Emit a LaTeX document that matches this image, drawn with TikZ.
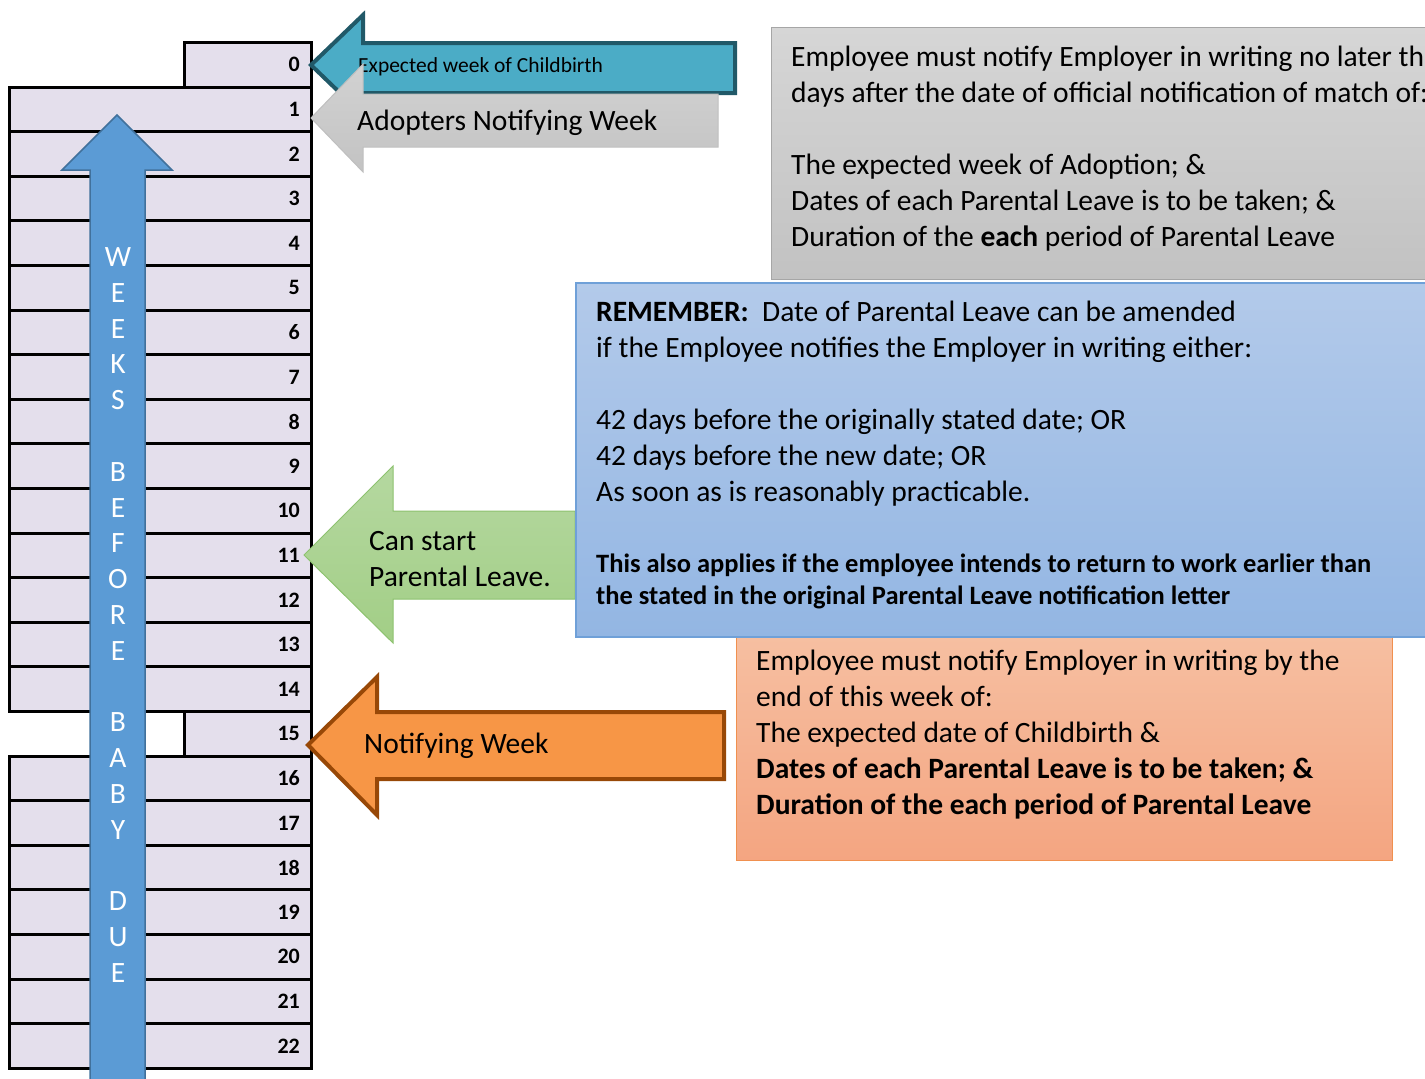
\documentclass[tikz,border=0pt]{standalone}
\usepackage{fontspec}
\setmainfont{Carlito}
\usetikzlibrary{positioning}

\definecolor{rowfill}{HTML}{E4DFEC}
\definecolor{babyfill}{HTML}{5B9BD5}
\definecolor{babyline}{HTML}{41719C}
\definecolor{childfill}{HTML}{4BACC6}
\definecolor{childline}{HTML}{215968}
\definecolor{adopttop}{HTML}{D2D2D2}
\definecolor{adoptbot}{HTML}{C3C3C3}
\definecolor{adoptline}{HTML}{BFBFBF}
\definecolor{starttop}{HTML}{B5D8A0}
\definecolor{startbot}{HTML}{A2CE86}
\definecolor{startline}{HTML}{8DC26F}
\definecolor{notifyfill}{HTML}{F79646}
\definecolor{notifyline}{HTML}{984807}
\definecolor{infotop}{HTML}{D6D6D6}
\definecolor{infobot}{HTML}{C2C2C2}
\definecolor{infoline}{HTML}{A6A6A6}
\definecolor{remtop}{HTML}{B3CAEA}
\definecolor{rembot}{HTML}{93B6E3}
\definecolor{remline}{HTML}{6FA0D8}
\definecolor{notetop}{HTML}{F6BFA1}
\definecolor{notebot}{HTML}{F4A581}
\definecolor{noteline}{HTML}{F0904F}

\newcommand{\bodyfont}{\fontsize{29.5}{36}\selectfont}
\newcommand{\smallbold}{\fontsize{26.5}{32}\selectfont\bfseries}

\begin{document}
\begin{tikzpicture}[x=1pt,y=-1pt,
    weekrow/.style={draw,line width=3pt,fill=rowfill,minimum height=44.6pt,inner sep=0pt,anchor=north east},
    weeknum/.style={font=\fontsize{22}{26}\selectfont\bfseries,anchor=east,inner sep=0pt},
    weekletter/.style={font=\bodyfont,text=white,inner sep=0pt},
    arrowtext/.style={font=\bodyfont,anchor=west,align=left,inner sep=0pt},
    boxtext/.style={font=\bodyfont,anchor=north west,align=left,inner sep=0pt}]
    \useasboundingbox (0,0) rectangle (1425,1079);

    % week table
    \foreach \i in {0,...,22}{
        \pgfmathsetmacro{\rowwd}{(\i==0||\i==15)?127.5:302}
        \pgfmathsetmacro{\rowtop}{41+\i*44.6}
        \node[weekrow,minimum width=\rowwd pt] (row\i) at (313,\rowtop) {};
        \node[weeknum] (num\i) at ([xshift=-13pt]row\i.east) {\i};
    }

    % weeks before baby due
    \draw[fill=babyfill,draw=babyline,line width=1.5pt] (117,115) -- (172,170) -- (145,170) -- (145,1095) -- (90,1095) -- (90,170) -- (62,170) -- cycle;
    \foreach \c [count=\k from 0] in {W,E,E,K,S,{},B,E,F,O,R,E,{},B,A,B,Y,{},D,U,E}
        \node[weekletter] (letter\k) at (118,{257+\k*35.8}) {\c};

    % side arrows
    \draw[fill=childfill,draw=childline,line width=4pt] (311,65) -- (363,15) -- (363,43) -- (735,43) -- (735,93) -- (363,93) -- (363,115) -- cycle;
    \node[arrowtext,font=\fontsize{21.5}{26}\selectfont] (childtext) at (358,67) {Expected week of Childbirth};
    \draw[top color=adopttop,bottom color=adoptbot,draw=adoptline,line width=1pt] (311,118) -- (363,64) -- (363,94) -- (718,94) -- (718,147) -- (363,147) -- (363,172) -- cycle;
    \node[arrowtext] (adopttext) at (357,123) {Adopters Notifying Week};

    \draw[top color=starttop,bottom color=startbot,draw=startline,line width=1pt] (304,555) -- (393,466) -- (393,511) -- (575,511) -- (575,599) -- (393,599) -- (393,643) -- cycle;
    \node[arrowtext] (starttext) at (369,559) {Can start\\Parental Leave.};

    \draw[fill=notifyfill,draw=notifyline,line width=4pt] (308,745) -- (377,677) -- (377,712) -- (724,712) -- (724,779) -- (377,779) -- (377,815) -- cycle;
    \node[arrowtext] (notifytext) at (364,746) {Notifying Week};

    % text boxes
    \draw[top color=infotop,bottom color=infobot,draw=infoline,line width=1pt] (771,27) rectangle (1440,279);
    \node[boxtext] (adoptinfo) at (791,46) {Employee must notify Employer in writing no later tha\\
        days after the date of official notification of match of:\\[36pt]
        The expected week of Adoption; \&\\
        Dates of each Parental Leave is to be taken; \&\\
        Duration of the \textbf{each} period of Parental Leave};

    \draw[top color=notetop,bottom color=notebot,draw=noteline,line width=1pt] (736,637) rectangle (1392,860);
    \node[boxtext] (noteinfo) at (756,650) {Employee must notify Employer in writing by the\\
        end of this week of:\\
        The expected date of Childbirth \&\\
        \textbf{Dates of each Parental Leave is to be taken; \&}\\
        \textbf{Duration of the each period of Parental Leave}};

    \draw[top color=remtop,bottom color=rembot,draw=remline,line width=1.5pt] (576,283) rectangle (1440,637);
    \node[boxtext] (reminfo) at (596,301) {\textbf{REMEMBER:}\ \ Date of Parental Leave can be amended\\
        if the Employee notifies the Employer in writing either:\\[36pt]
        42 days before the originally stated date; OR\\
        42 days before the new date; OR\\
        As soon as is reasonably practicable.\\[35pt]
        {\smallbold This also applies if the employee intends to return to work earlier than}\\[-4pt]
        {\smallbold the stated in the original Parental Leave notification letter}};
\end{tikzpicture}
\end{document}
